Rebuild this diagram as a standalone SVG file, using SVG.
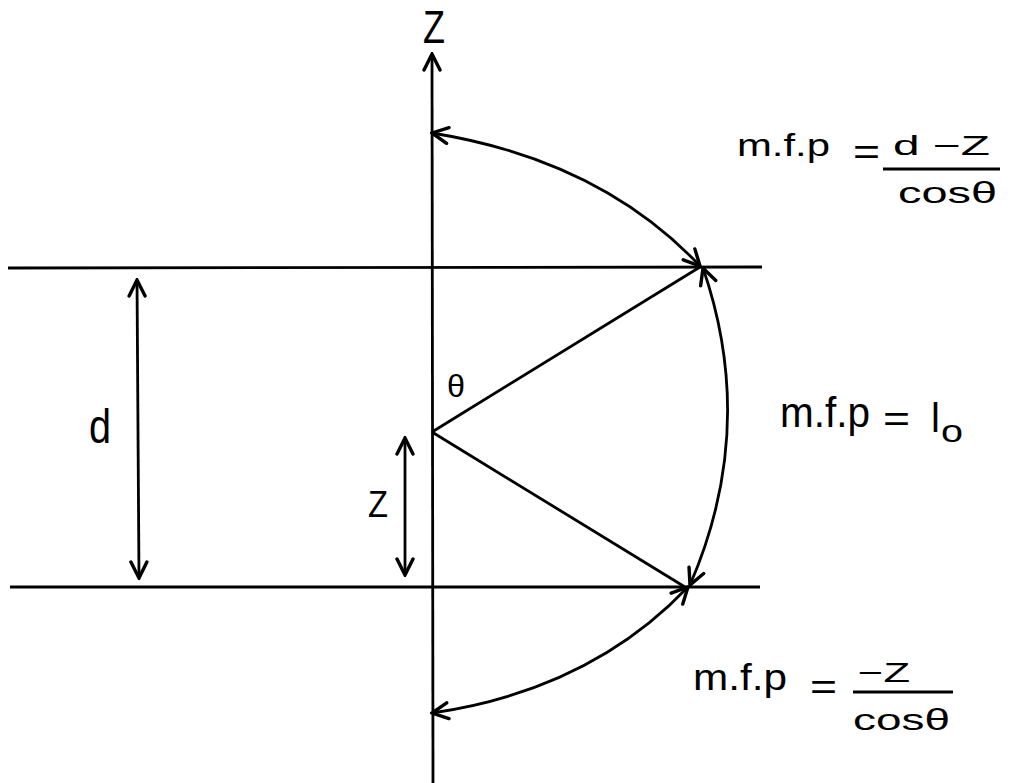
<svg xmlns="http://www.w3.org/2000/svg" width="1019" height="783" viewBox="0 0 1019 783">
<defs>
<marker id="ah" viewBox="0 0 20 20" refX="18" refY="10" markerWidth="20" markerHeight="20" markerUnits="userSpaceOnUse" orient="auto-start-reverse">
<path d="M2,2 L18,10 L2,18" fill="none" stroke="#000" stroke-width="3.4" stroke-linejoin="miter" stroke-linecap="round"/>
</marker>
</defs>
<style>
.ln{stroke:#000;stroke-width:2.8;fill:none}
.t{font-family:"Liberation Sans",Arial,sans-serif;fill:#000}
</style>
<rect width="1019" height="783" fill="#fff"/>
<g id="connectors">
<line class="ln" x1="433" y1="783" x2="432" y2="54" marker-end="url(#ah)"/>
<line class="ln" x1="8" y1="268" x2="762" y2="267"/>
<line class="ln" x1="10" y1="587" x2="760" y2="587"/>
<line class="ln" x1="432" y1="432" x2="700" y2="267"/>
<line class="ln" x1="432" y1="432" x2="685" y2="587"/>
<path class="ln" d="M432,133 Q600,160 700,266" marker-start="url(#ah)" marker-end="url(#ah)"/>
<path class="ln" d="M703,268 Q758,428 690,585" marker-start="url(#ah)" marker-end="url(#ah)"/>
<path class="ln" d="M688,587 Q590,690 432,713" marker-start="url(#ah)" marker-end="url(#ah)"/>
<line class="ln" x1="137" y1="280" x2="139" y2="578" marker-start="url(#ah)" marker-end="url(#ah)"/>
<line class="ln" x1="405" y1="438" x2="405" y2="575" marker-start="url(#ah)" marker-end="url(#ah)"/>
</g>
<g id="axis-label"><text class="t" x="423" y="43" font-size="47" textLength="22" lengthAdjust="spacingAndGlyphs">Z</text></g>
<g id="d-label"><text class="t" x="89" y="443" font-size="48" textLength="22" lengthAdjust="spacingAndGlyphs">d</text></g>
<g id="z-label"><text class="t" x="368" y="517" font-size="37" textLength="20" lengthAdjust="spacingAndGlyphs">Z</text></g>
<g id="theta-label"><text class="t" x="447" y="397" font-size="32" textLength="18" lengthAdjust="spacingAndGlyphs">θ</text></g>
<g id="eq-top">
<text class="t" x="737" y="156" font-size="31" textLength="93" lengthAdjust="spacingAndGlyphs">m.f.p</text>
<text class="t" x="853" y="164" font-size="36" textLength="27" lengthAdjust="spacingAndGlyphs">=</text>
<text class="t" x="893" y="155" font-size="28" textLength="97" lengthAdjust="spacingAndGlyphs">d −Z</text>
<line class="ln" x1="883" y1="169" x2="1000" y2="169"/>
<text class="t" x="898" y="203" font-size="30" textLength="99" lengthAdjust="spacingAndGlyphs">cosθ</text>
</g>
<g id="eq-mid">
<text class="t" x="780" y="427" font-size="42" textLength="90" lengthAdjust="spacingAndGlyphs">m.f.p</text>
<text class="t" x="883" y="431" font-size="36" textLength="27" lengthAdjust="spacingAndGlyphs">=</text>
<text class="t" x="931" y="432" font-size="40">l</text>
<text class="t" x="941" y="442" font-size="32" textLength="22" lengthAdjust="spacingAndGlyphs">o</text>
</g>
<g id="eq-bot">
<text class="t" x="693" y="690" font-size="37" textLength="94" lengthAdjust="spacingAndGlyphs">m.f.p</text>
<text class="t" x="810" y="699" font-size="36" textLength="27" lengthAdjust="spacingAndGlyphs">=</text>
<text class="t" x="858" y="682" font-size="27" textLength="52" lengthAdjust="spacingAndGlyphs">−Z</text>
<line class="ln" x1="853" y1="692" x2="953" y2="692"/>
<text class="t" x="853" y="730" font-size="29" textLength="97" lengthAdjust="spacingAndGlyphs">cosθ</text>
</g>
</svg>
